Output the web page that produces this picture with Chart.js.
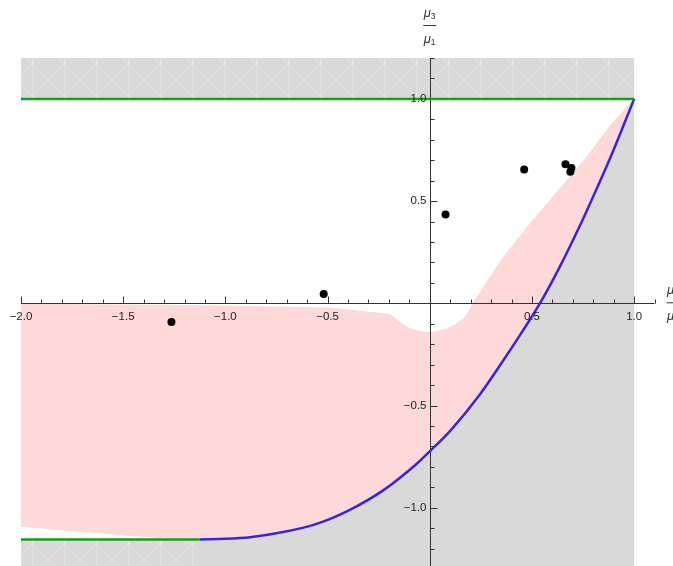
<!DOCTYPE html>
<html>
<head>
<meta charset="utf-8">
<script src="https://cdn.jsdelivr.net/npm/chart.js@4.4.1/dist/chart.umd.min.js"></script>
<style>
  html, body { margin: 0; padding: 0; background: #ffffff; overflow: hidden; }
  #wrap { width: 673px; height: 566px; position: relative; }
  canvas { display: block; }
</style>
</head>
<body>
<div id="wrap"><canvas id="chart" width="673" height="566"></canvas></div>
<script>
// Boundary of attainable (x = μ2/μ1, y = μ3/μ1) pairs
const boundaryX = [-1.125, -1.0, -0.88, -0.717, -0.554, -0.391, -0.228, -0.065, 0, 0.1, 0.245, 0.37, 0.45, 0.541, 0.641, 0.729, 0.81, 0.889, 0.962, 1];
const boundaryY = [-1.155, -1.152, -1.144, -1.119, -1.079, -1.010, -0.915, -0.786, -0.724, -0.624, -0.446, -0.264, -0.142, 0.003, 0.188, 0.368, 0.546, 0.726, 0.905, 1];

// Upper and lower edges of the shaded feasible band
const bandTopX = [-2, -1.5, -1.0, -0.5, -0.44, -0.35, -0.25, -0.196, -0.17, -0.147, -0.115, -0.082, -0.04, 0, 0.04, 0.082, 0.125, 0.163, 0.19, 0.208, 0.25, 0.293, 0.33, 0.372, 0.489, 0.628, 0.766, 0.889, 1];
const bandTopY = [-0.002, -0.006, -0.011, -0.02, -0.025, -0.035, -0.046, -0.053, -0.07, -0.091, -0.112, -0.128, -0.137, -0.14, -0.136, -0.123, -0.102, -0.074, -0.04, 0, 0.06, 0.129, 0.185, 0.244, 0.39, 0.553, 0.716, 0.879, 1];
const bandLowX = [-2, -1.614, -1.37, -1.2];
const bandLowY = [-1.093, -1.125, -1.145, -1.153];

// Horizontal limits
const upperLimit = 1;
const lowerLimit = -1.155;
const limitSpanX = [-2, 1];
const lowerLimitEndX = -1.125;

// Observed pairs
const obsX = [-1.264, -0.519, 0.077, 0.462, 0.664, 0.693, 0.688];
const obsY = [-0.091, 0.045, 0.434, 0.654, 0.680, 0.662, 0.643];

// Axis ticks
const xTickValues = [-2, -1.5, -1, -0.5, 0.5, 1];
const xTickLabels = ['\u22122.0', '\u22121.5', '\u22121.0', '\u22120.5', '0.5', '1.0'];
const yTickValues = [1, 0.5, -0.5, -1];
const yTickLabels = ['1.0', '0.5', '\u22120.5', '\u22121.0'];

const pts = (xs, ys) => xs.map((v, i) => ({ x: v, y: ys[i] }));

const GRAY = '#d9d9d9';
const PINK = '#ffd9d9';
const GREEN = '#14a014';
const BLUE = '#3a24d8';
const AXIS = '#333333';
const TEXT = '#1e1e1e';
const FONT = '"Liberation Sans", Arial, sans-serif';

// faint cross-hatch used in the excluded bands
function hatch() {
  const c = document.createElement('canvas');
  c.width = 32; c.height = 32;
  const g = c.getContext('2d');
  g.fillStyle = GRAY; g.fillRect(0, 0, 32, 32);
  g.strokeStyle = 'rgba(255,255,255,0.28)';
  g.lineWidth = 1;
  g.beginPath();
  g.moveTo(0.5, 0); g.lineTo(0.5, 32);
  g.moveTo(0, 0); g.lineTo(32, 32);
  g.moveTo(32, 0); g.lineTo(0, 32);
  g.stroke();
  return g.createPattern(c, 'repeat');
}
const hatchFill = hatch();

const axesPlugin = {
  id: 'crossAxes',
  beforeDatasetsDraw(chart) {
    const { ctx, scales: { x, y } } = chart;
    const x0 = Math.round(x.getPixelForValue(0)) + 0.5;
    const y0 = Math.round(y.getPixelForValue(0)) + 0.5;
    ctx.save();
    ctx.strokeStyle = AXIS;
    ctx.lineWidth = 1;
    ctx.beginPath();
    ctx.moveTo(x.getPixelForValue(x.min), y0);
    ctx.lineTo(x.getPixelForValue(x.max), y0);
    ctx.moveTo(x0, y.getPixelForValue(y.max));
    ctx.lineTo(x0, y.getPixelForValue(y.min));
    for (let k = -20; k <= 11; k++) {
      if (k === 0) continue;
      const len = k % 5 === 0 ? 7 : 4;
      const px = Math.round(x.getPixelForValue(k / 10)) + 0.5;
      ctx.moveTo(px, y0);
      ctx.lineTo(px, y0 - len);
    }
    for (let k = -12; k <= 12; k++) {
      if (k === 0) continue;
      const len = k % 5 === 0 ? 7 : 4;
      const py = Math.round(y.getPixelForValue(k / 10)) + 0.5;
      ctx.moveTo(x0, py);
      ctx.lineTo(x0 + len, py);
    }
    ctx.stroke();
    ctx.restore();
  },
  afterDatasetsDraw(chart) {
    const { ctx, scales: { x, y } } = chart;
    const x0 = Math.round(x.getPixelForValue(0)) + 0.5;
    const y0 = Math.round(y.getPixelForValue(0)) + 0.5;
    ctx.save();
    ctx.fillStyle = TEXT;
    ctx.font = '11.5px ' + FONT;
    ctx.textAlign = 'center';
    ctx.textBaseline = 'middle';
    xTickValues.forEach((v, i) => {
      ctx.fillText(xTickLabels[i], x.getPixelForValue(v), y0 + 13);
    });
    ctx.textAlign = 'right';
    yTickValues.forEach((v, i) => {
      ctx.fillText(yTickLabels[i], x0 - 4, y.getPixelForValue(v));
    });
    ctx.restore();
  },
  afterDraw(chart) {
    const { ctx, scales: { x, y } } = chart;
    const x0 = x.getPixelForValue(0);
    const y0 = y.getPixelForValue(0);
    const xEnd = x.getPixelForValue(x.max);
    ctx.save();
    ctx.fillStyle = '#333333';
    ctx.strokeStyle = '#333333';
    ctx.lineWidth = 1;
    ctx.textBaseline = 'alphabetic';
    ctx.textAlign = 'left';
    const frac = (left, lineY, top, bottom) => {
      ctx.font = 'italic 13px ' + FONT;
      ctx.fillText('\u03bc', left + 0.5, lineY - 8);
      ctx.fillText('\u03bc', left + 0.5, lineY + 18);
      ctx.font = '8.5px ' + FONT;
      ctx.fillText(top, left + 7.5, lineY - 6);
      ctx.fillText(bottom, left + 7.5, lineY + 20);
      ctx.beginPath();
      ctx.moveTo(left, lineY + 0.5);
      ctx.lineTo(left + 13, lineY + 0.5);
      ctx.stroke();
    };
    frac(x0 - 6.5, 25, '3', '1');
    frac(xEnd + 12, y0 - 1, '2', '1');
    ctx.restore();
  }
};

new Chart(document.getElementById('chart'), {
  type: 'line',
  data: {
    datasets: [
      { // excluded: above the upper limit
        data: pts(limitSpanX, [upperLimit, upperLimit]),
        fill: 'end', backgroundColor: hatchFill,
        borderWidth: 0, borderColor: 'transparent', pointRadius: 0, order: 20
      },
      { // excluded: below the lower limit
        data: pts(limitSpanX, [lowerLimit, lowerLimit]),
        fill: 'start', backgroundColor: hatchFill,
        borderWidth: 0, borderColor: 'transparent', pointRadius: 0, order: 20
      },
      { // excluded: right of the boundary curve, drawn with the curve itself
        data: pts(boundaryX, boundaryY),
        fill: 'start', backgroundColor: GRAY,
        borderColor: BLUE, borderWidth: 2.5, pointRadius: 0,
        cubicInterpolationMode: 'monotone', order: 3
      },
      { // feasible band, filled down to its lower edge (next dataset)
        data: pts(bandTopX, bandTopY),
        fill: { target: 4 }, backgroundColor: PINK,
        borderWidth: 0, borderColor: 'transparent', pointRadius: 0, tension: 0, order: 15
      },
      { // lower edge of the band
        data: pts(bandLowX.concat(boundaryX), bandLowY.concat(boundaryY)),
        fill: false, borderWidth: 0, borderColor: 'transparent', pointRadius: 0,
        cubicInterpolationMode: 'monotone', order: 16
      },
      { // upper limit line
        data: pts(limitSpanX, [upperLimit, upperLimit]),
        fill: false, borderColor: GREEN, borderWidth: 2.5, pointRadius: 0, order: 2
      },
      { // lower limit line
        data: pts([limitSpanX[0], lowerLimitEndX], [lowerLimit, lowerLimit]),
        fill: false, borderColor: GREEN, borderWidth: 2.5, pointRadius: 0, order: 2
      },
      { // observations
        data: pts(obsX, obsY),
        showLine: false, fill: false,
        pointRadius: 4, pointHoverRadius: 4,
        pointBackgroundColor: '#000000', pointBorderColor: '#000000', pointBorderWidth: 0,
        order: 0
      }
    ]
  },
  options: {
    responsive: false,
    animation: false,
    events: [],
    layout: { autoPadding: false, padding: { left: 21, right: 18.4, top: 58, bottom: 0 } },
    scales: {
      x: { type: 'linear', min: -2, max: 1.1, display: false },
      y: { type: 'linear', min: -1.285, max: 1.2, display: false }
    },
    plugins: {
      legend: { display: false },
      tooltip: { enabled: false },
      filler: { drawTime: 'beforeDatasetsDraw', propagate: false }
    }
  },
  plugins: [axesPlugin]
});
</script>
</body>
</html>
